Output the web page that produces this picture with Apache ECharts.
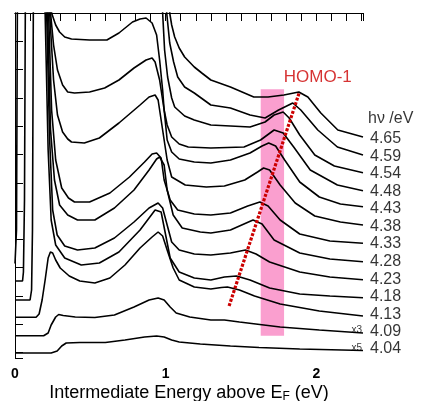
<!DOCTYPE html>
<html>
<head>
<meta charset="utf-8">
<script src="https://cdn.jsdelivr.net/npm/echarts@6/dist/echarts.min.js"></script>
<style>
  html, body { margin: 0; padding: 0; background: #fff; }
  #chart { width: 422px; height: 401px; }
</style>
</head>
<body>
<div id="chart"></div>
<script>
// photon energies, top trace first, and where their labels sit (arb. units)
const hvLabels = ['4.65', '4.59', '4.54', '4.48', '4.43', '4.38', '4.33', '4.28', '4.23', '4.18', '4.13', '4.09', '4.04'];
const labelLevels = [21.97, 20.13, 18.4, 16.63, 14.97, 13.13, 11.4, 9.6, 7.87, 6.1, 4.37, 2.67, 0.93];

// traces: [energy above EF (eV), offset intensity (arb.)]; 40 = off scale
const spec465 = [[0, 40], [1.013, 40], [1.027, 34.5], [1.04, 33.3], [1.06, 32.1], [1.09, 31.0], [1.126, 30.1], [1.19, 29.1], [1.24, 28.5], [1.3, 27.8], [1.43, 27.1], [1.585, 26.1], [1.68, 26.1], [1.785, 26.3], [1.884, 26.6], [1.944, 26.1], [2.03, 24.5], [2.143, 22.8], [2.31, 22.1]];
const spec459 = [[0, 40], [0.993, 40], [1.007, 34.5], [1.027, 31.5], [1.053, 29.6], [1.08, 28.1], [1.126, 27.1], [1.19, 26.5], [1.3, 25.3], [1.43, 25.0], [1.56, 24.3], [1.66, 24.0], [1.75, 24.8], [1.844, 25.5], [1.897, 24.8], [2.01, 22.8], [2.14, 21.1], [2.31, 20.3]];
const spec454 = [[0, 40], [0.973, 40], [0.98, 34.5], [0.993, 30.8], [1.013, 28.1], [1.04, 26.0], [1.06, 25.1], [1.126, 24.2], [1.19, 23.8], [1.3, 23.3], [1.43, 23.2], [1.56, 23.1], [1.66, 23.6], [1.72, 24.3], [1.78, 24.6], [1.82, 24.0], [1.89, 22.3], [1.99, 20.3], [2.12, 19.2], [2.31, 18.53]];
const spec448 = [[0, 40], [0.223, 40], [0.243, 34.5], [0.27, 33.3], [0.296, 32.6], [0.33, 32.1], [0.375, 31.9], [0.495, 31.8], [0.61, 31.8], [0.69, 32.5], [0.78, 33.6], [0.83, 33.9], [0.87, 34.0], [0.91, 33.5], [0.94, 32.3], [0.96, 29.8], [0.98, 26.8], [0.99, 24.8], [1.01, 23.3], [1.04, 22.1], [1.09, 21.4], [1.15, 21.1], [1.3, 21.0], [1.52, 21.1], [1.63, 21.8], [1.72, 22.8], [1.78, 22.5], [1.85, 21.1], [1.96, 18.8], [2.14, 17.3], [2.31, 16.73]];
const spec443 = [[0, 40], [0.216, 40], [0.236, 34.5], [0.256, 31.3], [0.282, 28.8], [0.316, 27.3], [0.35, 26.6], [0.395, 26.5], [0.495, 26.6], [0.595, 27.0], [0.69, 27.8], [0.79, 29.0], [0.87, 29.8], [0.91, 30.0], [0.93, 29.6], [0.96, 27.8], [0.99, 24.8], [1.01, 21.8], [1.04, 20.6], [1.09, 19.9], [1.19, 19.6], [1.3, 19.5], [1.43, 19.8], [1.56, 20.5], [1.64, 21.2], [1.684, 21.5], [1.73, 21.2], [1.79, 19.8], [1.89, 17.6], [2.02, 16.1], [2.16, 15.4], [2.31, 15.13]];
const spec438 = [[0, 40], [0.21, 40], [0.23, 34.5], [0.256, 27.8], [0.282, 24.3], [0.316, 22.6], [0.35, 21.9], [0.375, 21.6], [0.46, 21.5], [0.56, 22.0], [0.69, 23.5], [0.83, 25.3], [0.89, 26.1], [0.93, 26.3], [0.95, 25.8], [0.98, 22.8], [1.01, 19.8], [1.04, 18.1], [1.13, 17.3], [1.27, 17.1], [1.39, 17.2], [1.525, 17.8], [1.61, 18.6], [1.65, 19.0], [1.69, 18.8], [1.76, 17.3], [1.86, 15.5], [1.99, 14.2], [2.16, 13.6], [2.31, 13.3]];
const spec433 = [[0, 40], [0.203, 40], [0.223, 34.5], [0.243, 24.8], [0.27, 19.8], [0.31, 17.0], [0.355, 16.0], [0.395, 15.6], [0.495, 15.6], [0.63, 16.5], [0.76, 18.1], [0.86, 19.6], [0.91, 20.4], [0.94, 20.5], [0.97, 20.0], [0.99, 17.8], [1.03, 15.8], [1.08, 14.8], [1.19, 14.4], [1.3, 14.3], [1.43, 14.5], [1.545, 15.2], [1.625, 15.6], [1.68, 15.2], [1.76, 13.8], [1.89, 12.4], [2.09, 11.7], [2.31, 11.47]];
const spec428 = [[0, 9.45], [0.005, 9.45], [0.01, 12.8], [0.017, 40], [0.196, 40], [0.216, 34.5], [0.236, 22.8], [0.262, 17.8], [0.296, 15.3], [0.35, 14.3], [0.415, 13.8], [0.53, 13.8], [0.66, 15.0], [0.79, 16.8], [0.89, 18.8], [0.94, 19.9], [0.96, 20.1], [0.99, 19.3], [1.01, 16.8], [1.05, 14.3], [1.11, 13.0], [1.23, 12.6], [1.3, 12.5], [1.43, 12.8], [1.52, 13.4], [1.58, 13.8], [1.64, 13.4], [1.72, 11.8], [1.89, 10.5], [2.09, 9.9], [2.31, 9.63]];
const spec423 = [[0, 7.7], [0.05, 7.7], [0.056, 8.6], [0.063, 15.8], [0.07, 40], [0.19, 40], [0.21, 34.5], [0.23, 21.8], [0.25, 14.8], [0.28, 12.3], [0.33, 11.2], [0.415, 10.8], [0.53, 11.0], [0.66, 12.0], [0.79, 13.6], [0.89, 15.0], [0.95, 15.5], [0.98, 15.0], [1.01, 13.3], [1.04, 11.6], [1.09, 10.8], [1.19, 10.4], [1.3, 10.3], [1.43, 10.5], [1.53, 10.8], [1.6, 10.4], [1.69, 9.6], [1.89, 8.6], [2.09, 8.1], [2.31, 7.83]];
const spec418 = [[0, 5.8], [0.1, 5.8], [0.11, 6.8], [0.116, 12.8], [0.123, 40], [0.19, 40], [0.2, 34.5], [0.22, 20.8], [0.24, 13.8], [0.27, 11.3], [0.33, 10.0], [0.44, 9.3], [0.56, 9.5], [0.69, 10.6], [0.83, 12.8], [0.89, 14.0], [0.93, 14.8], [0.97, 14.6], [1.0, 12.3], [1.03, 10.0], [1.09, 8.6], [1.19, 8.0], [1.3, 7.8], [1.39, 8.1], [1.47, 8.2], [1.56, 7.8], [1.69, 7.0], [1.89, 6.4], [2.09, 6.2], [2.31, 6.03]];
const spec413 = [[0, 4.07], [0.14, 4.07], [0.16, 4.4], [0.18, 5.8], [0.2, 7.8], [0.22, 10.0], [0.235, 10.6], [0.25, 10.5], [0.27, 9.8], [0.3, 9.0], [0.36, 8.2], [0.43, 7.7], [0.53, 7.5], [0.63, 8.0], [0.73, 9.3], [0.83, 11.0], [0.91, 12.1], [0.95, 12.6], [0.98, 12.2], [1.01, 10.8], [1.05, 9.0], [1.09, 7.8], [1.19, 7.1], [1.3, 6.9], [1.37, 7.05], [1.41, 7.1], [1.49, 6.8], [1.59, 6.2], [1.76, 5.4], [2.02, 4.7], [2.31, 4.2]];
const spec409 = [[0, 2.23], [0.19, 2.23], [0.22, 2.5], [0.24, 3.3], [0.27, 4.1], [0.29, 4.35], [0.32, 4.25], [0.4, 4.1], [0.53, 4.05], [0.66, 4.3], [0.79, 5.1], [0.89, 5.8], [0.95, 6.0], [0.99, 5.8], [1.03, 5.1], [1.07, 4.5], [1.16, 4.1], [1.3, 3.8], [1.39, 3.8], [1.49, 3.6], [1.76, 3.1], [2.02, 2.8], [2.31, 2.5]];
const spec404 = [[0, 0.5], [0.24, 0.5], [0.28, 0.7], [0.31, 1.2], [0.34, 1.5], [0.43, 1.55], [0.6, 1.55], [0.73, 1.8], [0.86, 2.1], [0.94, 2.2], [0.99, 2.1], [1.04, 1.8], [1.09, 1.6], [1.23, 1.4], [1.43, 1.2], [1.62, 1.05], [1.89, 0.9], [2.31, 0.75]];
const spectra = [spec465, spec459, spec454, spec448, spec443, spec438, spec433, spec428, spec423, spec418, spec413, spec409, spec404];

// HOMO-1 band, guide line and scale factors
const bandEnergy = [1.631, 1.786];
const bandLevels = [2.23, 26.87];
const homoTrend = [[1.421, 5.2], [1.886, 26.5]];
const scaleNotes = ['x3', 'x5'];
const scaleLevels = [2.75, 0.95];

const font = 'Liberation Sans, Arial, Helvetica, sans-serif';
const chart = echarts.init(document.getElementById('chart'));

// frame axes carry the border lines; tick axes sit 4px inward and tick outward to the border
function xAxisOf(position, ticksOnly) {
  return {
    type: 'value', position: position, min: 0, max: 2.31, interval: 0.1,
    offset: ticksOnly ? -4 : 0,
    axisLine: { show: !ticksOnly, lineStyle: { color: '#000', width: 1 } },
    axisTick: { show: ticksOnly, length: 4, lineStyle: { color: '#000', width: 1 } },
    axisLabel: { show: false },
    splitLine: { show: false }
  };
}
function yAxisOf(position, ticksOnly) {
  return {
    type: 'value', position: position, inverse: true, min: 0, max: 12.19, interval: 1,
    offset: ticksOnly ? -4 : 0,
    axisLine: { show: !ticksOnly, lineStyle: { color: '#000', width: 1 } },
    axisTick: { show: ticksOnly, length: 4, lineStyle: { color: '#000', width: 1 } },
    axisLabel: { show: false },
    splitLine: { show: false }
  };
}

const series = [];
series.push({
  type: 'line', xAxisIndex: 0, yAxisIndex: 4, z: 1, silent: true,
  data: [], showSymbol: false,
  markArea: {
    silent: true,
    itemStyle: { color: '#fa9fcf', opacity: 1 },
    data: [[{ coord: [bandEnergy[0], bandLevels[0]] }, { coord: [bandEnergy[1], bandLevels[1]] }]]
  }
});
spectra.forEach((d, i) => {
  series.push({
    name: hvLabels[i], type: 'line', xAxisIndex: 0, yAxisIndex: 4, z: 2,
    data: d, showSymbol: false, clip: true, silent: true,
    lineStyle: { color: '#000', width: 1.6 }
  });
});
series.push({
  type: 'line', xAxisIndex: 0, yAxisIndex: 4, z: 3, silent: true,
  data: homoTrend, showSymbol: false,
  lineStyle: { color: '#cc0000', width: 3.2, type: [3, 1.6] }
});
series.push({
  type: 'scatter', xAxisIndex: 0, yAxisIndex: 4, z: 4, silent: true, clip: false,
  symbolSize: 0,
  data: [{ value: [2.01, 28.05], label: { position: 'inside', formatter: 'HOMO-1', color: '#cc0000', fontSize: 17 } }]
    .concat(scaleNotes.map((t, i) => ({ value: [2.31, scaleLevels[i]], label: { position: 'left', distance: 1, formatter: t, fontSize: 10, color: '#000' } })))
    .concat(hvLabels.map((t, i) => ({ value: [2.31, labelLevels[i]], label: { position: 'right', distance: 7, formatter: t, fontSize: 16, color: '#000' } })))
    .concat([{ value: [2.31, 23.95], label: { position: 'right', distance: 5, formatter: 'hν /eV', fontSize: 16, color: '#000' } }]),
  label: { show: true, fontFamily: font }
});

chart.setOption({
  animation: false,
  backgroundColor: '#fff',
  textStyle: { fontFamily: font },
  grid: { left: 15, top: 13, width: 348, height: 345, containLabel: false, outerBoundsMode: 'none' },
  xAxis: [
    Object.assign(xAxisOf('bottom', false), {
      axisLabel: {
        show: true, margin: 9, fontSize: 14, fontWeight: 'bold', color: '#000', fontFamily: font,
        formatter: v => (Math.abs(v - Math.round(v)) < 1e-6 ? String(Math.round(v)) : '')
      },
      name: 'Intermediate Energy above E{sub|F} (eV)',
      nameLocation: 'middle', nameGap: 26, nameMoveOverlap: false,
      nameTextStyle: {
        fontSize: 18, color: '#000', fontFamily: font,
        rich: { sub: { fontSize: 12, verticalAlign: 'bottom', padding: [7, 0, 0, 0], fontFamily: font, color: '#000' } }
      }
    }),
    xAxisOf('top', false),
    xAxisOf('bottom', true),
    xAxisOf('top', true)
  ],
  yAxis: [
    yAxisOf('left', false),
    yAxisOf('right', false),
    yAxisOf('left', true),
    yAxisOf('right', true),
    { type: 'value', show: false, min: 0, max: 34.5, position: 'left' }
  ],
  series: series
});
</script>
</body>
</html>
